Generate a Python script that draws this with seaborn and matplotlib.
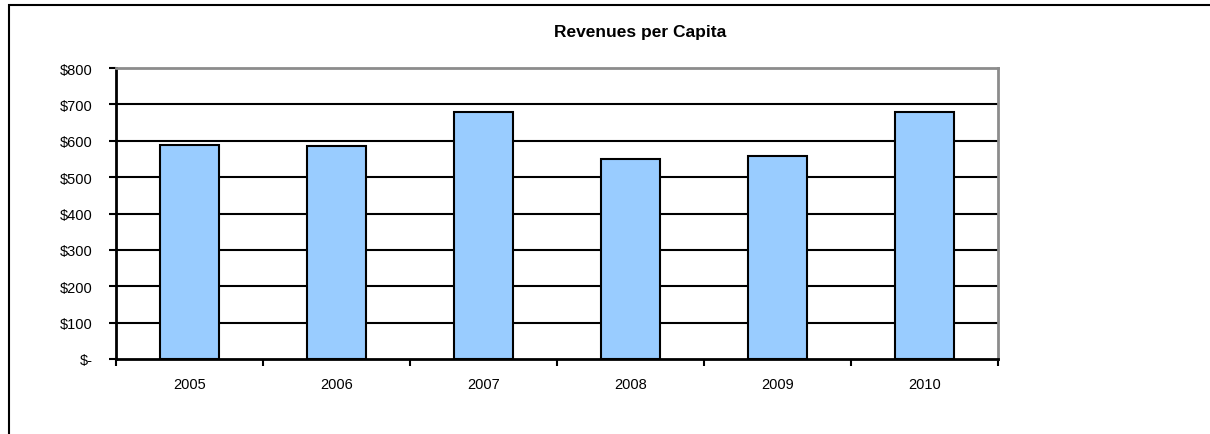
import matplotlib
matplotlib.use("Agg")
import matplotlib.pyplot as plt
from matplotlib.patches import Rectangle
from matplotlib.ticker import FixedLocator, FuncFormatter
import seaborn as sns
import pandas as pd

years = ["2005", "2006", "2007", "2008", "2009", "2010"]
revenue_per_capita = [588, 585, 680, 550, 557, 680]
y_ticks = [0, 100, 200, 300, 400, 500, 600, 700, 800]

sns.set_style("white")
plt.rcParams["font.family"] = ["Liberation Sans", "DejaVu Sans"]

df = pd.DataFrame({"year": years, "revenue": revenue_per_capita})

fig = plt.figure(figsize=(12.1, 4.35), dpi=100)
ax = fig.add_axes([116 / 1210, 1 - 360 / 435, (998 - 116) / 1210, (360 - 69) / 435])

sns.barplot(data=df, x="year", y="revenue", color="#99CCFF", edgecolor="black",
            linewidth=1.5, width=0.4, saturation=1, ax=ax, zorder=3)

ax.set_xlim(-0.5, len(years) - 0.5)
ax.set_ylim(0, 800)
ax.set_xlabel("")
ax.set_ylabel("")

# horizontal gridlines
ax.set_axisbelow(True)
ax.yaxis.set_major_locator(FixedLocator(y_ticks))
for v in y_ticks[1:-1]:
    ax.axhline(v, color="black", linewidth=1.5, zorder=1)

ax.yaxis.set_major_formatter(FuncFormatter(lambda v, _: "$-" if v == 0 else f"${v:,.0f}"))

# category boundaries as major ticks, labels on minor ticks
ax.xaxis.set_major_locator(FixedLocator([i - 0.5 for i in range(len(years) + 1)]))
ax.xaxis.set_minor_locator(FixedLocator(list(range(len(years)))))
ax.xaxis.set_major_formatter(FuncFormatter(lambda v, _: ""))
ax.xaxis.set_minor_formatter(FuncFormatter(lambda v, _: years[int(round(v))]))
ax.tick_params(axis="x", which="major", direction="out", length=5, width=1.5,
               color="black", bottom=True)
ax.tick_params(axis="x", which="minor", length=0, pad=13, labelsize=10.5, labelcolor="black")
ax.tick_params(axis="y", which="major", direction="out", length=5, width=1.5,
               color="black", left=True, pad=12, labelsize=10.5, labelcolor="black")

for side in ["left", "bottom"]:
    ax.spines[side].set_color("black")
    ax.spines[side].set_linewidth(2)
for side in ["top", "right"]:
    ax.spines[side].set_color("#8c8c8c")
    ax.spines[side].set_linewidth(2)
    ax.spines[side].set_visible(True)

fig.text(640 / 1210, 1 - 33 / 435, "Revenues per Capita", ha="center", va="center",
         fontsize=12.5, fontweight="bold", color="black")

# chart-area frame (runs past the right and bottom edges)
fig.patches.append(Rectangle((9 / 1210, -10 / 435), (1225 - 9) / 1210, (445 - 6) / 435,
                             transform=fig.transFigure, fill=False, edgecolor="black",
                             linewidth=1.5, zorder=0))

fig.savefig("out.png", dpi=100, facecolor="white")
